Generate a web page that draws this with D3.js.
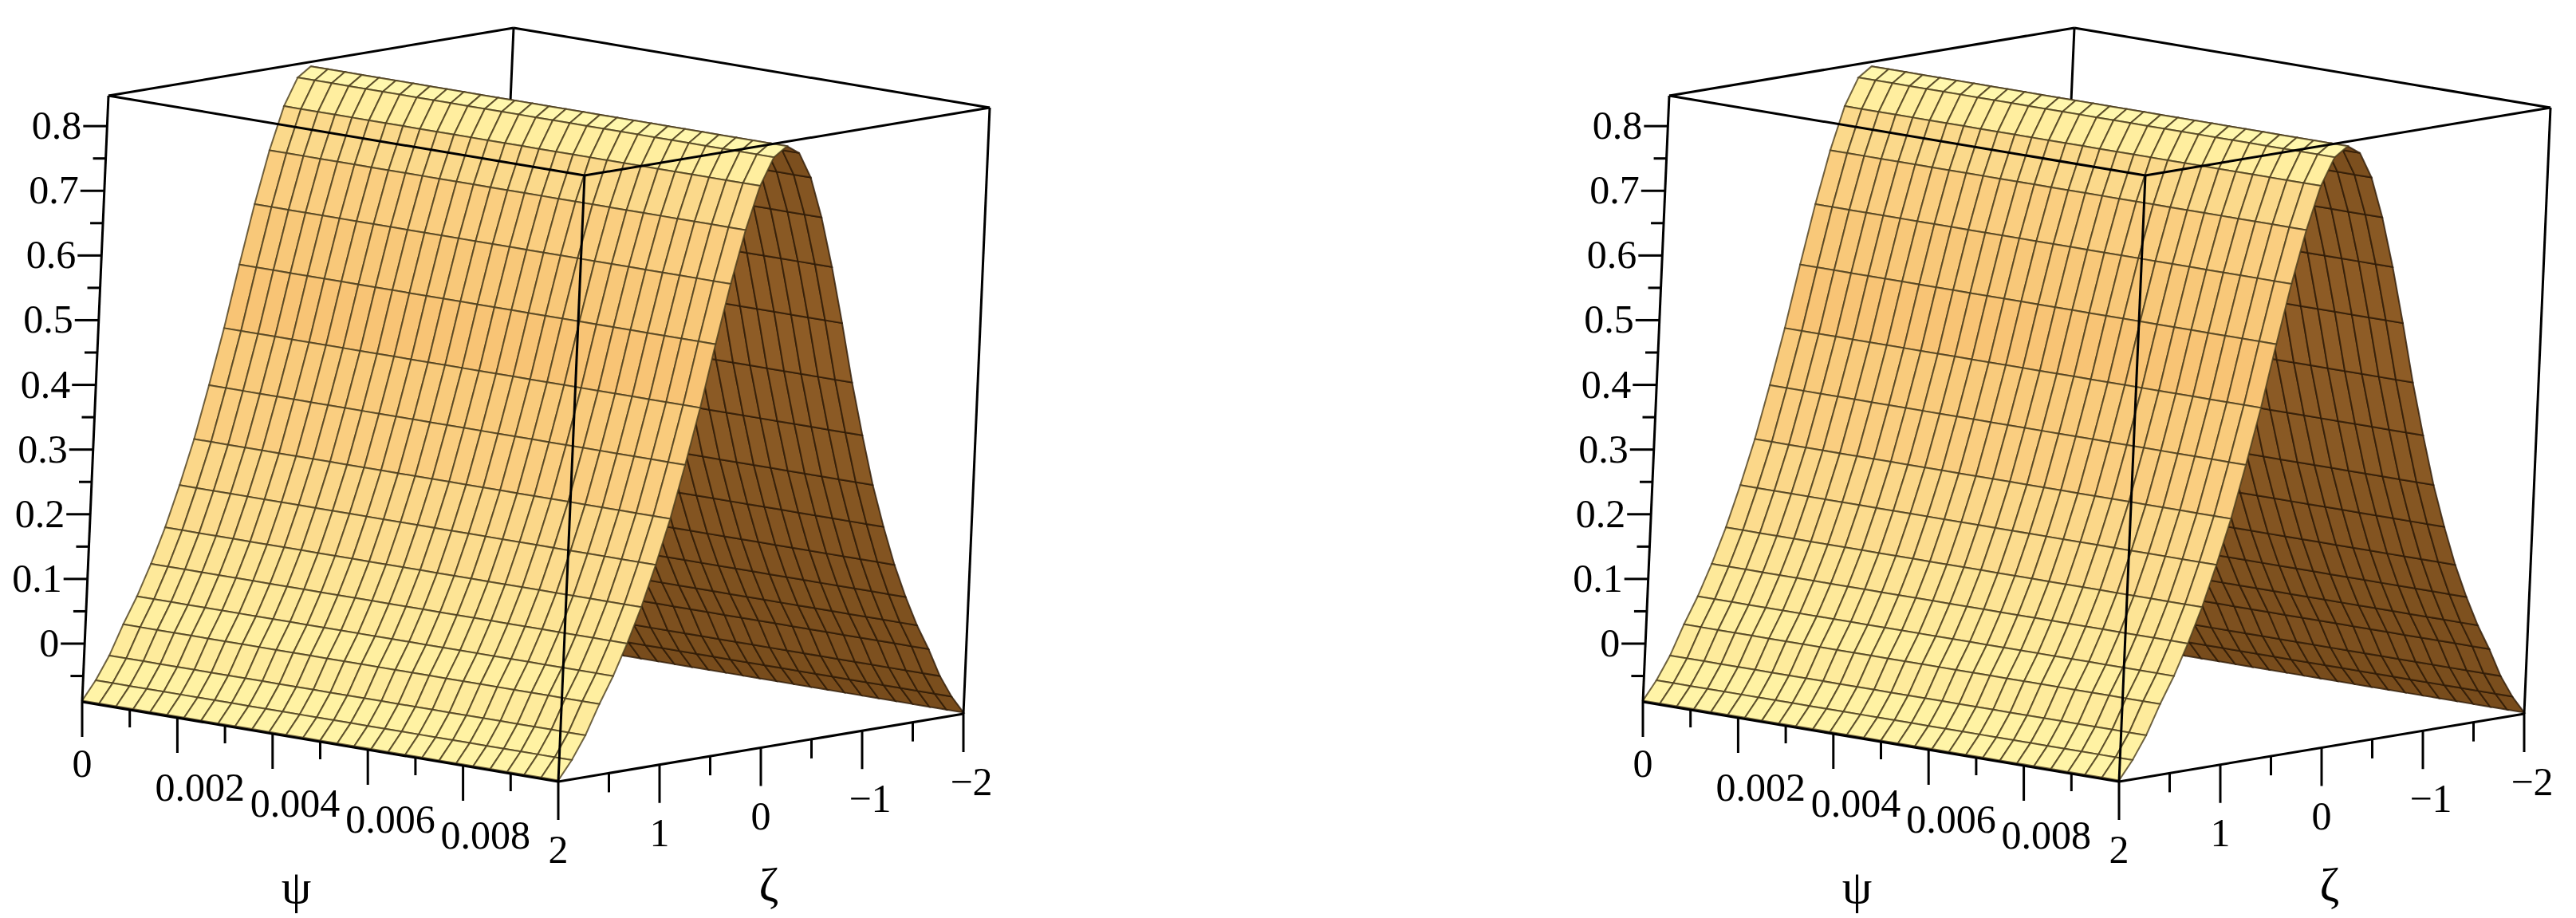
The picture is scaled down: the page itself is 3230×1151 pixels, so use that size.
<!DOCTYPE html>
<html><head><meta charset="utf-8">
<script src="https://cdn.jsdelivr.net/npm/d3@7"></script>
<style>body{margin:0;background:#fff}</style>
</head><body>
<div id="chart"></div>
<script>
var W = 3230, H = 1151;

// surface profile: height vs zeta (same for every psi)
var zetaValues = [-2,-1.875,-1.75,-1.625,-1.5,-1.375,-1.25,-1.125,-1,-0.875,-0.75,-0.625,-0.5,-0.375,-0.25,-0.125,0,
                  0.125,0.25,0.375,0.5,0.625,0.75,0.875,1,1.125,1.25,1.375,1.5,1.625,1.75,1.875,2];
var heightValues = [-0.088,-0.060,-0.025,0.020,0.060,0.107,0.160,0.222,0.290,0.370,0.455,0.550,0.640,0.720,0.785,0.826,0.840,
                    0.826,0.785,0.720,0.640,0.550,0.455,0.370,0.290,0.222,0.160,0.107,0.060,0.020,-0.025,-0.060,-0.088];
var psiValues = d3.range(0, 29).map(function(i){ return i * 0.01 / 28; });
var zTicks = [0,0.1,0.2,0.3,0.4,0.5,0.6,0.7,0.8];
var zMinor = [-0.05,0.05,0.15,0.25,0.35,0.45,0.55,0.65,0.75];
var psiTicks = [0,0.002,0.004,0.006,0.008];
var psiMinor = [0.001,0.003,0.005,0.007,0.009];
var zetaTicks = [2,1,0,-1,-2];
var zetaMinor = [1.5,0.5,-0.5,-1.5];
var panelOffsets = [0, 1957];

var psiScale = d3.scaleLinear().domain([0, 0.01]).range([0, 1]);
var zetaScale = d3.scaleLinear().domain([2, -2]).range([0, 1]);
var zScale = d3.scaleLinear().domain([-0.09, 0.847]).range([0, 1]);

var svg = d3.select("#chart").append("svg").attr("width", W).attr("height", H);

function fmt(v){ return v < 0 ? "\u2212" + Math.abs(v) : String(v); }

panelOffsets.forEach(function(off){
    function proj(psi, zeta, z){
        var a = psiScale(psi), b = zetaScale(zeta), c = zScale(z);
        return [103 + off + a*597 + b*508 + c*33, 880 + a*100 - b*85 - c*760];
    }
    var g = svg.append("g");
    var zmin = -0.09, zmax = 0.847;
    function line(p, q, w){
        g.append("line").attr("x1", p[0]).attr("y1", p[1]).attr("x2", q[0]).attr("y2", q[1])
            .attr("stroke", "#000").attr("stroke-width", w || 3);
    }
    // hidden back vertical edge, drawn under the surface
    line(proj(0,-2,zmin), proj(0,-2,zmax));

    var quads = [];
    for (var j = 0; j < zetaValues.length - 1; j++){
        for (var i = 0; i < psiValues.length - 1; i++){
            var z1 = heightValues[j], z2 = heightValues[j+1];
            var slope = Math.abs(z2 - z1) / (zetaValues[j+1] - zetaValues[j]);
            var mid = (zetaValues[j] + zetaValues[j+1]) / 2;
            quads.push({
                pts: [proj(psiValues[i], zetaValues[j], z1), proj(psiValues[i+1], zetaValues[j], z1),
                      proj(psiValues[i+1], zetaValues[j+1], z2), proj(psiValues[i], zetaValues[j+1], z2)],
                lit: mid > 0, slope: slope, order: (mid > 0 ? 10 : 0) + i / 100
            });
        }
    }
    quads.sort(function(a, b){ return a.order - b.order; });
    var litColor = d3.scaleLinear().domain([0, 0.3, 0.55, 0.75]).range(["#fffbb4", "#fff1a2", "#fbd688", "#f8c576"]);
    var darkColor = d3.scaleLinear().domain([0, 0.75]).range(["#6e4518", "#8e5c26"]);
    g.selectAll("path.q").data(quads).enter().append("path")
        .attr("d", function(d){ return "M" + d.pts.join("L") + "Z"; })
        .attr("fill", function(d){ return d.lit ? litColor(d.slope) : darkColor(d.slope); })
        .attr("stroke", function(d){ return d.lit ? "#4a3c1c" : "#2e1a06"; })
        .attr("stroke-opacity", 0.8)
        .attr("stroke-width", 2);

    // box edges
    var tl = proj(0,2,zmax), ft = proj(0.01,2,zmax), rt = proj(0.01,-2,zmax), bt = proj(0,-2,zmax);
    var bl = proj(0,2,zmin), fb = proj(0.01,2,zmin), rb = proj(0.01,-2,zmin);
    line(tl, ft); line(ft, rt); line(rt, bt); line(bt, tl);
    line(bl, tl); line(fb, ft); line(rb, rt);
    line(bl, fb); line(fb, rb);

    var font = "Liberation Serif", fs = 50;
    zTicks.forEach(function(t){
        var p = proj(0, 2, t);
        line([p[0]-30, p[1]], p, 3);
        g.append("text").attr("x", p[0]-32).attr("y", p[1]+16).attr("text-anchor", "end")
            .attr("font-family", font).attr("font-size", fs).text(fmt(t));
    });
    zMinor.forEach(function(t){
        var p = proj(0, 2, t);
        line([p[0]-16, p[1]], p, 3);
    });
    psiTicks.forEach(function(t){
        var p = proj(t, 2, zmin);
        line(p, [p[0], p[1]+44], 3);
        g.append("text").attr("x", p[0]).attr("y", p[1] + (t === 0 ? 94 : 104))
            .attr("text-anchor", t === 0 ? "middle" : "start")
            .attr("dx", t === 0 ? 0 : -28)
            .attr("font-family", font).attr("font-size", fs).text(fmt(t));
    });
    psiMinor.forEach(function(t){
        var p = proj(t, 2, zmin);
        line(p, [p[0], p[1]+22], 3);
    });
    zetaTicks.forEach(function(t){
        var p = proj(0.01, t, zmin);
        line(p, [p[0], p[1]+48], 3);
        g.append("text").attr("x", p[0] + (t < 0 ? 10 : 0)).attr("y", p[1]+102).attr("text-anchor", "middle")
            .attr("font-family", font).attr("font-size", fs).text(fmt(t));
    });
    zetaMinor.forEach(function(t){
        var p = proj(0.01, t, zmin);
        line(p, [p[0], p[1]+24], 3);
    });
    var pm = proj(0.005, 2, zmin);
    g.append("text").attr("x", pm[0] - 30).attr("y", 1132).attr("text-anchor", "middle")
        .attr("font-family", font).attr("font-size", 60).text("\u03c8");
    var zm = proj(0.01, 0, zmin);
    g.append("text").attr("x", zm[0] + 10).attr("y", 1129).attr("text-anchor", "middle")
        .attr("font-family", font).attr("font-size", 60).text("\u03b6");
});
</script>
</body></html>
